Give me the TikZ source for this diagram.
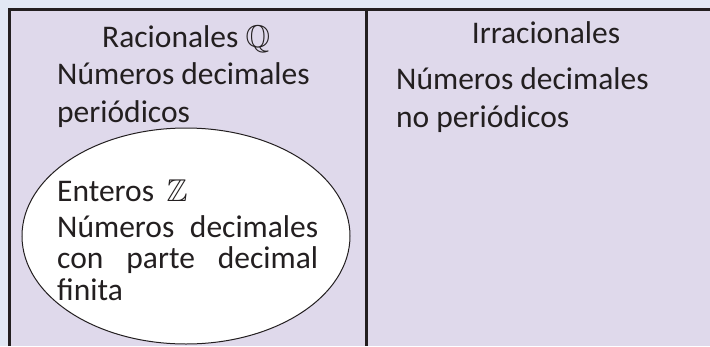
\documentclass[tikz,border=0pt]{standalone}
\usepackage{fontspec}
\setmainfont{Carlito}
\usepackage{amssymb}
\usetikzlibrary{shapes.geometric}

\newlength{\du}
\setlength{\du}{1pt}

\definecolor{pagecolor}{RGB}{226,232,244}
\definecolor{setcolor}{RGB}{223,217,235}
\definecolor{dialinecolor}{RGB}{35,31,32}

\tikzset{
  settext/.style={anchor=base west, inner sep=0pt, text=dialinecolor,
    font=\fontsize{31.5}{38}\selectfont},
  setborder/.style={draw=dialinecolor, line width=2.5\du},
}

\begin{document}
\begin{tikzpicture}
\pgftransformxscale{1.000000}
\pgftransformyscale{-1.000000}
\useasboundingbox (0\du,0\du) rectangle (710\du,346\du);
% background
\fill[pagecolor] (0\du,0\du) rectangle (710\du,346\du);
\fill[setcolor] (9.5\du,9.5\du) rectangle (710\du,346\du);
% frame and divider
\draw[setborder] (9.5\du,346\du)--(9.5\du,9.5\du)--(710\du,9.5\du);
\draw[setborder, line width=3\du] (366.5\du,9.5\du)--(366.5\du,346\du);
% rational numbers
\node[settext] (racionales) at (102\du,47\du){Racionales $\mathbb{Q}$};
\node[settext] (racdec) at (57\du,84\du){Números decimales};
\node[settext] (racper) at (57\du,122\du){periódicos};
% integers
\node[draw=dialinecolor, fill=white, ellipse, line width=1\du, inner sep=0pt,
  minimum width=328\du, minimum height=216\du] (enteros) at (186\du,236\du){};
\node[settext] (entname) at (57\du,201\du){Enteros~\,$\mathbb{Z}$};
\node[settext, text width=261\du, align=justify,
  font=\fontsize{31.5}{31.5}\selectfont] (entdec) at (57\du,237\du)
  {Números decimales\linebreak con parte decimal\linebreak finita};
% irrational numbers
\node[settext, anchor=base] (irracionales) at (546\du,43\du){Irracionales};
\node[settext] (irrdec) at (396\du,89\du){Números decimales};
\node[settext] (irrper) at (396\du,127\du){no periódicos};
\end{tikzpicture}
\end{document}
